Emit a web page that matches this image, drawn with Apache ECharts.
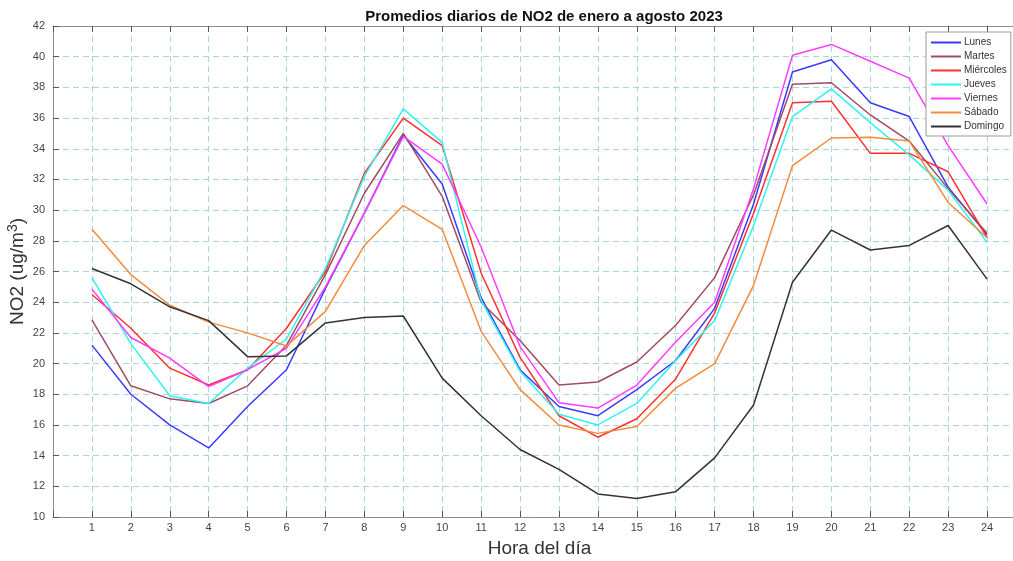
<!DOCTYPE html>
<html><head><meta charset="utf-8">
<script src="https://cdn.jsdelivr.net/npm/echarts@6/dist/echarts.min.js"></script>
<style>html,body{margin:0;padding:0;background:#fff}#c{width:1013px;height:561px}</style>
</head><body><div id="c"></div>
<script>
const hours = [1,2,3,4,5,6,7,8,9,10,11,12,13,14,15,16,17,18,19,20,21,22,23,24];
const seriesNames = ['Lunes','Martes','Miércoles','Jueves','Viernes','Sábado','Domingo'];
const lunes = [21.2,18.0,16.0,14.5,17.2,19.6,24.9,29.8,34.9,31.7,24.3,19.6,17.2,16.6,18.3,20.2,23.6,30.4,39.0,39.8,37.0,36.1,31.5,28.4];
const martes = [22.85,18.55,17.7,17.4,18.55,21.2,25.8,31.1,35.0,30.9,24.0,21.5,18.6,18.8,20.1,22.5,25.6,31.0,38.2,38.3,36.2,34.5,31.4,28.5];
const miercoles = [24.5,22.3,19.7,18.6,19.6,22.3,26.0,32.4,36.0,34.2,25.9,20.4,16.6,15.2,16.4,19.0,23.3,29.8,37.0,37.1,33.7,33.7,32.5,28.2];
const jueves = [25.6,21.3,17.9,17.4,19.7,21.6,26.2,32.2,36.6,34.4,24.1,19.5,16.7,16.0,17.4,20.2,22.8,29.0,36.1,37.9,35.7,33.6,31.3,27.9];
const viernes = [24.85,21.7,20.35,18.5,19.6,21.0,25.0,29.8,34.8,33.0,27.6,21.1,17.45,17.1,18.6,21.4,24.0,31.4,40.1,40.8,39.7,38.6,34.2,30.4];
const sabado = [28.75,25.8,23.8,22.7,22.0,21.15,23.4,27.7,30.3,28.75,22.1,18.3,16.0,15.45,15.9,18.4,20.0,25.1,32.9,34.7,34.75,34.5,30.5,28.2];
const domingo = [26.2,25.2,23.7,22.8,20.45,20.5,22.65,23.0,23.1,19.05,16.6,14.4,13.1,11.5,11.2,11.65,13.85,17.3,25.3,28.7,27.4,27.7,29.0,25.5];
const values = [lunes, martes, miercoles, jueves, viernes, sabado, domingo];
const colors = ['#3a3aff','#9e4c62','#ff3030','#30f2f2','#ff3cff','#f58a3c','#333333'];

const chart = echarts.init(document.getElementById('c'), null, {renderer:'canvas'});
const axisGray = '#8c8c8c';
const gridColor = '#a9d6d6';
const font = 'Liberation Sans, Arial, sans-serif';
chart.setOption({
  animation: false,
  backgroundColor: '#ffffff',
  title: {
    text: 'Promedios diarios de NO2 de enero a agosto 2023',
    left: 539, top: 4, textAlign: 'center',
    textStyle: {fontFamily: font, fontSize: 15, fontWeight: 'bold', color: '#111'}
  },
  legend: {
    orient: 'vertical', left: 926, top: 32,
    data: seriesNames,
    icon: 'rect', itemWidth: 30, itemHeight: 2, itemGap: 1,
    padding: [4, 4, 3, 5],
    backgroundColor: '#fff', borderColor: '#999', borderWidth: 1,
    textStyle: {fontFamily: font, fontSize: 10, color: '#333', lineHeight: 13, padding: [0,0,0,-2]}
  },
  grid: {left: 53, top: 26, width: 973, height: 491, containLabel: false, outerBoundsMode: 'none'},
  xAxis: [{
    type: 'value', min: 0, max: 25, interval: 1, position: 'bottom',
    name: 'Hora del día', nameLocation: 'middle', nameGap: 22, nameMoveOverlap: false,
    nameTextStyle: {fontFamily: font, fontSize: 19, color: '#333', verticalAlign: 'top'},
    axisLine: {show: true, lineStyle: {color: axisGray, width: 1}},
    axisTick: {show: true, inside: true, length: 6, lineStyle: {color: '#555'}},
    axisLabel: {fontFamily: font, fontSize: 11, color: '#444', margin: 5,
      formatter: v => (v >= 1 && v <= 24) ? String(v) : ''},
    splitLine: {show: true, lineStyle: {color: gridColor, type: [6, 4], width: 1}}
  }, {
    type: 'value', min: 0, max: 25, interval: 1, position: 'top',
    axisLine: {show: true, lineStyle: {color: axisGray, width: 1}},
    axisTick: {show: true, inside: true, length: 6, lineStyle: {color: '#555'}},
    axisLabel: {show: false}, splitLine: {show: false}
  }],
  yAxis: {
    type: 'value', min: 10, max: 42, interval: 2,
    name: '{a|NO2 (ug/m}{b|3}{a|)}', nameLocation: 'middle', nameGap: 23, nameRotate: 90, nameMoveOverlap: false,
    nameTextStyle: {rich: {
      a: {fontFamily: font, fontSize: 19, color: '#333'},
      b: {fontFamily: font, fontSize: 14, color: '#333', verticalAlign: 'top', padding: [0,0,10,0]}
    }},
    axisLine: {show: true, lineStyle: {color: axisGray, width: 1}},
    axisTick: {show: true, inside: true, length: 6, lineStyle: {color: '#555'}},
    axisLabel: {fontFamily: font, fontSize: 11, color: '#444', margin: 8},
    splitLine: {show: true, lineStyle: {color: gridColor, type: [6, 4], width: 1}}
  },
  series: seriesNames.map((n, i) => ({
    name: n, type: 'line', xAxisIndex: 0,
    data: hours.map((h, j) => [h, values[i][j]]),
    showSymbol: false, symbol: 'none',
    lineStyle: {color: colors[i], width: 1.5},
    itemStyle: {color: colors[i]},
    emphasis: {disabled: true}
  }))
});
</script></body></html>
